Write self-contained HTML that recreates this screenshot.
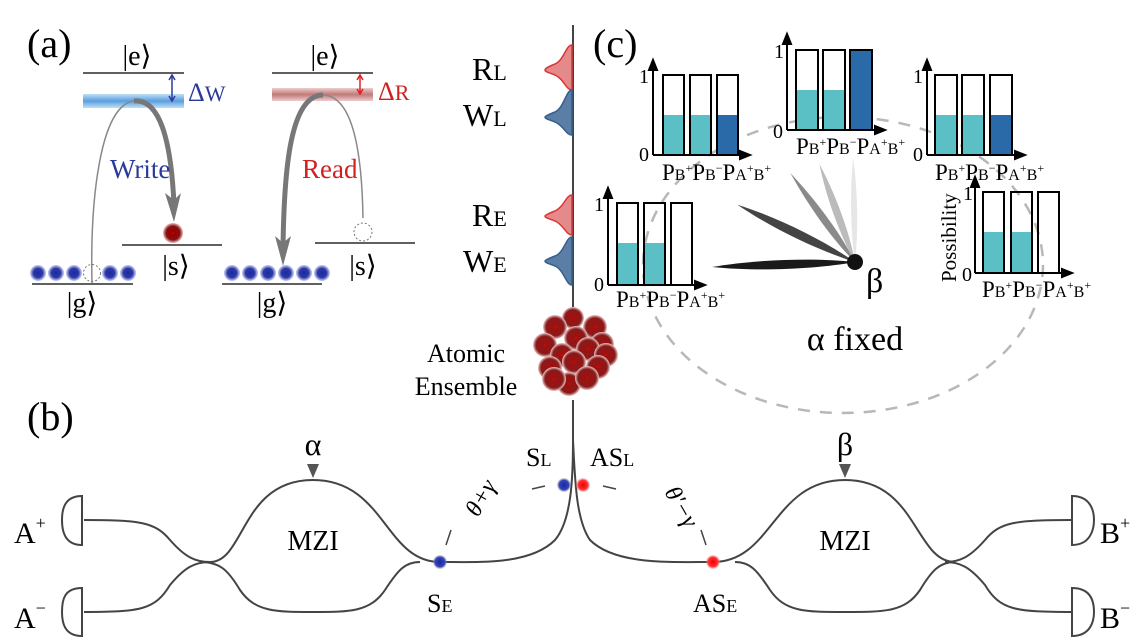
<!DOCTYPE html>
<html><head><meta charset="utf-8"><style>
html,body{margin:0;padding:0;background:#fff;}
svg{display:block;font-family:"Liberation Serif",serif;}
</style></head><body>
<svg width="1141" height="642" viewBox="0 0 1141 642" xmlns="http://www.w3.org/2000/svg">
<defs>
<radialGradient id="gb"><stop offset="0" stop-color="#1e2a9a"/><stop offset="0.6" stop-color="#2c3aa8"/><stop offset="1" stop-color="#8f98e0" stop-opacity="0.5"/></radialGradient>
<radialGradient id="gr"><stop offset="0" stop-color="#e00"/><stop offset="0.15" stop-color="#900"/><stop offset="0.7" stop-color="#8a1010"/><stop offset="1" stop-color="#c88" stop-opacity="0.6"/></radialGradient>
<radialGradient id="gs"><stop offset="0" stop-color="#e00"/><stop offset="0.12" stop-color="#a01010"/><stop offset="0.75" stop-color="#8a1a1a"/><stop offset="1" stop-color="#e8c8c8"/></radialGradient>
<radialGradient id="dotb"><stop offset="0" stop-color="#1a2a9a"/><stop offset="0.7" stop-color="#3344bb"/><stop offset="1" stop-color="#99a" stop-opacity="0.3"/></radialGradient>
<radialGradient id="dotr"><stop offset="0" stop-color="#e00"/><stop offset="0.7" stop-color="#f33"/><stop offset="1" stop-color="#f99" stop-opacity="0.3"/></radialGradient>
<linearGradient id="bandb" x1="0" y1="0" x2="0" y2="1"><stop offset="0" stop-color="#bfe0f5"/><stop offset="0.5" stop-color="#5a9ee0"/><stop offset="1" stop-color="#bfe0f5"/></linearGradient>
<linearGradient id="bandr" x1="0" y1="0" x2="0" y2="1"><stop offset="0" stop-color="#ecc"/><stop offset="0.5" stop-color="#c07a7a"/><stop offset="1" stop-color="#ecc"/></linearGradient>
</defs>

<!-- (a) -->
<text x="27" y="57" font-size="40">(a)</text>
<text x="137" y="65" font-size="28" text-anchor="middle">|e⟩</text>
<line x1="83" y1="73" x2="184" y2="73" stroke="#000" stroke-width="1.2"/>
<rect x="83" y="94" width="101" height="14" fill="url(#bandb)"/>
<line x1="172" y1="76" x2="172" y2="100" stroke="#2b3a9a" stroke-width="1.5"/>
<path d="M169,80 L172,75 L175,80 M169,96 L172,101 L175,96" fill="none" stroke="#2b3a9a" stroke-width="1.5"/>
<text x="188" y="101" font-size="26" fill="#2b3a9a">Δ<tspan font-size="22">W</tspan></text>
<path d="M92,283 C90,200 100,105 134,101 C165,98 172,160 174,205" fill="none" stroke="#888" stroke-width="1.5"/>
<path d="M134,101 C165,98 172,160 174,205" fill="none" stroke="#777" stroke-width="5"/>
<path d="M165,193 L174,222 L181,193 L174,200 Z" fill="#777"/>
<text x="110" y="178" font-size="27" fill="#2b3a9a">Write</text>
<circle cx="173" cy="233" r="10" fill="url(#gr)"/>
<line x1="122" y1="245" x2="222" y2="245" stroke="#000" stroke-width="1.2"/>
<text x="176" y="275" font-size="28" text-anchor="middle">|s⟩</text>
<g fill="url(#gb)">
<circle cx="38" cy="273" r="8"/><circle cx="56" cy="273" r="8"/><circle cx="74" cy="273" r="8"/><circle cx="110" cy="273" r="8"/><circle cx="128" cy="273" r="8"/>
</g>
<circle cx="92" cy="273" r="8.5" fill="none" stroke="#777" stroke-dasharray="2,2"/>
<line x1="32" y1="284" x2="133" y2="284" stroke="#000" stroke-width="1.2"/>
<text x="82" y="312" font-size="28" text-anchor="middle">|g⟩</text>

<text x="325" y="65" font-size="28" text-anchor="middle">|e⟩</text>
<line x1="272" y1="73" x2="373" y2="73" stroke="#000" stroke-width="1.2"/>
<rect x="272" y="88" width="101" height="13" fill="url(#bandr)"/>
<line x1="360" y1="76" x2="360" y2="93" stroke="#e02020" stroke-width="1.5"/>
<path d="M357,80 L360,75 L363,80 M357,89 L360,94 L363,89" fill="none" stroke="#e02020" stroke-width="1.5"/>
<text x="378" y="100" font-size="26" fill="#d02020">Δ<tspan font-size="22">R</tspan></text>
<path d="M363,218 C362,160 355,96 323,95" fill="none" stroke="#888" stroke-width="1.5"/>
<path d="M323,95 C290,95 284,170 283,248" fill="none" stroke="#777" stroke-width="5"/>
<path d="M275,236 L283,266 L291,236 L283,243 Z" fill="#777"/>
<text x="302" y="178" font-size="27" fill="#d02020">Read</text>
<circle cx="363" cy="232" r="9" fill="none" stroke="#777" stroke-dasharray="2,2"/>
<line x1="315" y1="243" x2="415" y2="243" stroke="#000" stroke-width="1.2"/>
<text x="363" y="275" font-size="28" text-anchor="middle">|s⟩</text>
<g fill="url(#gb)">
<circle cx="232" cy="273" r="8"/><circle cx="250" cy="273" r="8"/><circle cx="268" cy="273" r="8"/><circle cx="286" cy="273" r="8"/><circle cx="304" cy="273" r="8"/><circle cx="322" cy="273" r="8"/>
</g>
<line x1="222" y1="284" x2="322" y2="284" stroke="#000" stroke-width="1.2"/>
<text x="272" y="312" font-size="28" text-anchor="middle">|g⟩</text>

<!-- vertical fiber & pulses -->
<line x1="573" y1="25" x2="573" y2="312" stroke="#444" stroke-width="2"/>
<g stroke-width="1.5">
<path d="M572,45 C566,45 564,60 555,64 C550,66 545,68 545,70 C545,72 550,73 555,75 C564,79 566,90 572,90 Z" fill="#e58a8a" stroke="#d33"/>
<path d="M572,90 C566,90 564,108 555,112 C550,114 545,116 545,117 C545,119 550,120 555,122 C564,126 566,135 572,135 Z" fill="#5a7ea6" stroke="#355f8c"/>
<path d="M572,195 C566,195 564,207 555,211 C550,213 545,215 545,216 C545,218 550,219 555,221 C564,225 566,235 572,235 Z" fill="#e58a8a" stroke="#d33"/>
<path d="M572,237 C566,237 564,253 555,256 C550,258 545,260 545,261 C545,263 550,264 555,266 C564,270 566,285 572,285 Z" fill="#5a7ea6" stroke="#355f8c"/>
</g>
<text x="472" y="80" font-size="32">R<tspan font-size="22">L</tspan></text>
<text x="463" y="126" font-size="32">W<tspan font-size="22">L</tspan></text>
<text x="472" y="226" font-size="32">R<tspan font-size="22">E</tspan></text>
<text x="463" y="272" font-size="32">W<tspan font-size="22">E</tspan></text>

<!-- ensemble -->
<g fill="url(#gs)">
<circle cx="573" cy="318" r="11"/><circle cx="555" cy="327" r="12"/><circle cx="595" cy="327" r="12"/>
<circle cx="545" cy="345" r="12"/><circle cx="602" cy="344" r="12"/><circle cx="576" cy="338" r="12"/>
<circle cx="562" cy="355" r="12"/><circle cx="588" cy="349" r="12"/><circle cx="606" cy="355" r="12"/>
<circle cx="550" cy="368" r="12"/><circle cx="598" cy="367" r="12"/><circle cx="574" cy="362" r="12"/>
<circle cx="569" cy="384" r="12"/><circle cx="587" cy="378" r="12"/><circle cx="554" cy="379" r="12"/>
</g>
<text x="466" y="362" font-size="26" text-anchor="middle">Atomic</text>
<text x="466" y="395" font-size="26" text-anchor="middle">Ensemble</text>

<!-- (b) -->
<text x="27" y="430" font-size="40">(b)</text>
<g fill="none" stroke="#444" stroke-width="2">
<path d="M573,400 L573,440 C573,475 572,520 555,540 C530,565 480,562 440,562"/>
<path d="M573,440 C575,480 576,520 590,540 C615,565 670,562 713,562"/>
<path d="M440,562 C385,562 385,480 313,480 C241,480 245,562 210,562"/>
<path d="M420,562 C405,562 398,570 385,590 C370,612 350,612 313,612 C276,612 255,612 240,590 C228,570 220,562 200,562"/>
<path d="M210,562 C195,562 185,557 170,540 C155,522 140,520 84,520"/>
<path d="M210,562 C195,562 185,567 170,585 C155,610 140,612 84,612"/>
<path d="M713,562 C773,562 773,480 845,480 C917,480 915,562 955,562"/>
<path d="M735,562 C750,562 757,570 770,590 C785,612 805,612 845,612 C885,612 905,612 920,590 C932,570 940,562 955,562"/>
<path d="M945,562 C960,562 970,557 985,540 C1000,522 1015,520 1072,520"/>
<path d="M945,562 C960,562 970,567 985,585 C1000,610 1015,612 1072,612"/>
<path d="M82,496 C64,496 62,510 62,520 C62,530 64,545 82,545 Z"/>
<path d="M82,588 C64,588 62,600 62,612 C62,622 64,636 82,636 Z"/>
<path d="M1072,496 C1090,496 1094,510 1094,520 C1094,530 1090,545 1072,545 Z"/>
<path d="M1072,588 C1090,588 1094,600 1094,612 C1094,622 1090,636 1072,636 Z"/>
</g>
<path d="M307,464 L319,464 L313,478 Z" fill="#555"/>
<path d="M839,464 L851,464 L845,478 Z" fill="#555"/>
<text x="313" y="455" font-size="32" text-anchor="middle">α</text>
<text x="845" y="455" font-size="32" text-anchor="middle">β</text>
<text x="313" y="550" font-size="28" text-anchor="middle">MZI</text>
<text x="845" y="550" font-size="28" text-anchor="middle">MZI</text>
<text x="14" y="543" font-size="30">A<tspan font-size="18" dy="-14">+</tspan></text>
<text x="14" y="628" font-size="30">A<tspan font-size="18" dy="-14">−</tspan></text>
<text x="1100" y="543" font-size="30">B<tspan font-size="18" dy="-14">+</tspan></text>
<text x="1100" y="628" font-size="30">B<tspan font-size="18" dy="-14">−</tspan></text>
<circle cx="440" cy="562" r="7" fill="url(#dotb)"/>
<circle cx="713" cy="562" r="7" fill="url(#dotr)"/>
<circle cx="564" cy="485" r="7" fill="url(#dotb)"/>
<circle cx="583" cy="485" r="7" fill="url(#dotr)"/>
<g stroke="#444" stroke-width="1.5">
<line x1="446" y1="545" x2="451" y2="530"/><line x1="532" y1="489" x2="545" y2="486"/>
<line x1="603" y1="486" x2="616" y2="489"/><line x1="706" y1="545" x2="701" y2="530"/>
</g>
<text x="0" y="0" font-size="24" transform="translate(478,518) rotate(-60)" font-style="italic">θ+γ</text>
<text x="0" y="0" font-size="24" transform="translate(664,492) rotate(60)" font-style="italic">θ′−γ</text>
<text x="526" y="466" font-size="26">S<tspan font-size="18">L</tspan></text>
<text x="590" y="466" font-size="26">AS<tspan font-size="18">L</tspan></text>
<text x="427" y="612" font-size="26">S<tspan font-size="18">E</tspan></text>
<text x="693" y="612" font-size="26">AS<tspan font-size="18">E</tspan></text>

<!-- (c) -->
<ellipse cx="843" cy="265" rx="200" ry="148" fill="none" stroke="#b8b8b8" stroke-width="2.5" stroke-dasharray="12,10"/>
<text x="593" y="57" font-size="40">(c)</text>

<g stroke="#000" stroke-width="2">
<line x1="653" y1="155" x2="653" y2="68"/><line x1="653" y1="155" x2="745" y2="155"/>
<path d="M649,70 L653,60 L657,70Z M740,151 L750,155 L740,159Z" fill="#000"/>
<rect x="663" y="115" width="21" height="40" fill="#5bbfc6" stroke="none"/><rect x="690" y="115" width="21" height="40" fill="#5bbfc6" stroke="none"/><rect x="717" y="115" width="21" height="40" fill="#2a6aa8" stroke="none"/>
<rect x="663" y="75" width="21" height="80" fill="none"/><rect x="690" y="75" width="21" height="80" fill="none"/><rect x="717" y="75" width="21" height="80" fill="none"/>
<line x1="787" y1="130" x2="787" y2="42"/><line x1="787" y1="130" x2="880" y2="130"/>
<path d="M783,44 L787,34 L791,44Z M875,126 L885,130 L875,134Z" fill="#000"/>
<rect x="796" y="90" width="22" height="40" fill="#5bbfc6" stroke="none"/><rect x="823" y="90" width="22" height="40" fill="#5bbfc6" stroke="none"/><rect x="850" y="50" width="22" height="80" fill="#2a6aa8" stroke="none"/>
<rect x="796" y="50" width="22" height="80" fill="none"/><rect x="823" y="50" width="22" height="80" fill="none"/><rect x="850" y="50" width="22" height="80" fill="none"/>
<line x1="927" y1="155" x2="927" y2="68"/><line x1="927" y1="155" x2="1020" y2="155"/>
<path d="M923,70 L927,60 L931,70Z M1015,151 L1025,155 L1015,159Z" fill="#000"/>
<rect x="935" y="115" width="22" height="40" fill="#5bbfc6" stroke="none"/><rect x="962" y="115" width="22" height="40" fill="#5bbfc6" stroke="none"/><rect x="990" y="115" width="22" height="40" fill="#2a6aa8" stroke="none"/>
<rect x="935" y="75" width="22" height="80" fill="none"/><rect x="962" y="75" width="22" height="80" fill="none"/><rect x="990" y="75" width="22" height="80" fill="none"/>
<line x1="608" y1="285" x2="608" y2="196"/><line x1="608" y1="285" x2="700" y2="285"/>
<path d="M604,198 L608,188 L612,198Z M695,281 L705,285 L695,289Z" fill="#000"/>
<rect x="617" y="243" width="21" height="42" fill="#5bbfc6" stroke="none"/><rect x="644" y="243" width="21" height="42" fill="#5bbfc6" stroke="none"/>
<rect x="617" y="203" width="21" height="82" fill="none"/><rect x="644" y="203" width="21" height="82" fill="none"/><rect x="671" y="203" width="21" height="82" fill="none"/>
<line x1="975" y1="273" x2="975" y2="185"/><line x1="975" y1="273" x2="1067" y2="273"/>
<path d="M971,187 L975,177 L979,187Z M1062,269 L1072,273 L1062,277Z" fill="#000"/>
<rect x="983" y="232" width="21" height="41" fill="#5bbfc6" stroke="none"/><rect x="1011" y="232" width="21" height="41" fill="#5bbfc6" stroke="none"/>
<rect x="983" y="192" width="21" height="81" fill="none"/><rect x="1011" y="192" width="21" height="81" fill="none"/><rect x="1038" y="192" width="21" height="81" fill="none"/>
</g>
<g font-size="20">
<text x="639" y="83">1</text><text x="639" y="161">0</text>
<text x="774" y="58">1</text><text x="773" y="138">0</text>
<text x="913" y="83">1</text><text x="913" y="161">0</text>
<text x="594" y="211">1</text><text x="594" y="291">0</text>
<text x="963" y="200">1</text><text x="962" y="281">0</text>
</g>
<g font-size="23">
<text x="662" y="180">P<tspan font-size="16">B</tspan><tspan font-size="12" dy="-8">+</tspan><tspan dy="8">P</tspan><tspan font-size="16">B</tspan><tspan font-size="12" dy="-8">−</tspan><tspan dy="8">P</tspan><tspan font-size="16">A</tspan><tspan font-size="12" dy="-8">+</tspan><tspan font-size="16" dy="8">B</tspan><tspan font-size="12" dy="-8">+</tspan></text>
<text x="796" y="154">P<tspan font-size="16">B</tspan><tspan font-size="12" dy="-8">+</tspan><tspan dy="8">P</tspan><tspan font-size="16">B</tspan><tspan font-size="12" dy="-8">−</tspan><tspan dy="8">P</tspan><tspan font-size="16">A</tspan><tspan font-size="12" dy="-8">+</tspan><tspan font-size="16" dy="8">B</tspan><tspan font-size="12" dy="-8">+</tspan></text>
<text x="935" y="180">P<tspan font-size="16">B</tspan><tspan font-size="12" dy="-8">+</tspan><tspan dy="8">P</tspan><tspan font-size="16">B</tspan><tspan font-size="12" dy="-8">−</tspan><tspan dy="8">P</tspan><tspan font-size="16">A</tspan><tspan font-size="12" dy="-8">+</tspan><tspan font-size="16" dy="8">B</tspan><tspan font-size="12" dy="-8">+</tspan></text>
<text x="616" y="307">P<tspan font-size="16">B</tspan><tspan font-size="12" dy="-8">+</tspan><tspan dy="8">P</tspan><tspan font-size="16">B</tspan><tspan font-size="12" dy="-8">−</tspan><tspan dy="8">P</tspan><tspan font-size="16">A</tspan><tspan font-size="12" dy="-8">+</tspan><tspan font-size="16" dy="8">B</tspan><tspan font-size="12" dy="-8">+</tspan></text>
<text x="982" y="297">P<tspan font-size="16">B</tspan><tspan font-size="12" dy="-8">+</tspan><tspan dy="8">P</tspan><tspan font-size="16">B</tspan><tspan font-size="12" dy="-8">−</tspan><tspan dy="8">P</tspan><tspan font-size="16">A</tspan><tspan font-size="12" dy="-8">+</tspan><tspan font-size="16" dy="8">B</tspan><tspan font-size="12" dy="-8">+</tspan></text>
</g>
<text x="0" y="0" font-size="21" transform="translate(956,282) rotate(-90)">Possibility</text>

<!-- petals -->
<g>
<path d="M0,0 C30,-4 70,-4 104,0 C70,4 30,4 0,0Z" fill="#e6e6e6" transform="translate(855,262) rotate(-91)"/>
<path d="M0,0 C30,-5 70,-5 104,0 C70,5 30,5 0,0Z" fill="#bbbbbb" transform="translate(855,262) rotate(-110)"/>
<path d="M0,0 C30,-5 70,-5 110,0 C70,5 30,5 0,0Z" fill="#8a8a8a" transform="translate(855,262) rotate(-126)"/>
<path d="M0,0 C40,-6 90,-6 131,0 C90,6 40,6 0,0Z" fill="#444" transform="translate(855,262) rotate(-154)"/>
<path d="M0,0 C40,-6 100,-6 143,0 C100,6 40,6 0,0Z" fill="#1a1a1a" transform="translate(855,262) rotate(178)"/>
<circle cx="855" cy="262" r="8" fill="#111"/>
</g>
<text x="866" y="292" font-size="34">β</text>
<text x="855" y="350" font-size="34" text-anchor="middle">α fixed</text>
</svg>
</body></html>
